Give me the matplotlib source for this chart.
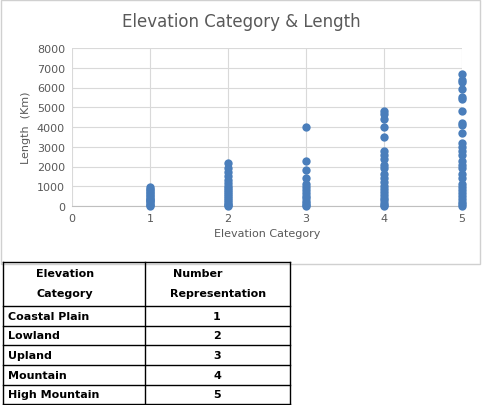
import matplotlib.pyplot as plt

# Lengths (km) by elevation category
cat1 = [950, 880, 800, 720, 650, 580, 500, 430, 360, 300, 240, 180, 120, 60, 20]
cat2 = [2200, 1900, 1700, 1500, 1300, 1150, 1000, 900, 800, 700, 600, 500, 400, 300, 200, 120, 50, 10]
cat3 = [4000, 2300, 1800, 1400, 1100, 950, 800, 650, 500, 380, 260, 150, 60, 10]
cat4 = [4800, 4650, 4400, 4000, 3500, 2800, 2600, 2400, 2100, 1900, 1600, 1400, 1200, 1000,
        850, 700, 550, 400, 280, 160, 60, 10]
cat5 = [6700, 6400, 6300, 5900, 5500, 5400, 4800, 4200, 4100, 3700, 3200, 3000, 2800, 2600,
        2300, 2100, 1900, 1600, 1400, 1100, 950, 800, 650, 500, 350, 200, 80, 10]
series = [cat1, cat2, cat3, cat4, cat5]

table_rows = [("Coastal Plain", "1"), ("Lowland", "2"), ("Upland", "3"),
              ("Mountain", "4"), ("High Mountain", "5")]

W, H = 483, 406
fig = plt.figure(figsize=(W / 100, H / 100), dpi=100)

# background axes in pixel coordinates for chart frame and table
bg = fig.add_axes([0, 0, 1, 1])
bg.set_xlim(0, W)
bg.set_ylim(H, 0)
bg.axis('off')
bg.add_patch(plt.Rectangle((1, 1), 479, 264, fill=False, edgecolor='#d0d0d0', lw=1))

# table
xs = [3, 145, 290]
ys = [263, 307, 327, 346, 366, 386, 405]
for y in ys:
    bg.plot([xs[0], xs[2]], [y, y], color='black', lw=1)
for x in xs:
    bg.plot([x, x], [ys[0], ys[-1]], color='black', lw=1)
bg.text(65, 274, "Elevation", ha='center', va='center', fontsize=8, fontweight='bold')
bg.text(65, 294, "Category", ha='center', va='center', fontsize=8, fontweight='bold')
bg.text(198, 274, "Number", ha='center', va='center', fontsize=8, fontweight='bold')
bg.text(218, 294, "Representation", ha='center', va='center', fontsize=8, fontweight='bold')
for i, (name, num) in enumerate(table_rows):
    yc = (ys[i + 1] + ys[i + 2]) / 2
    bg.text(8, yc, name, ha='left', va='center', fontsize=8, fontweight='bold')
    bg.text(217, yc, num, ha='center', va='center', fontsize=8, fontweight='bold')

# scatter chart
ax = fig.add_axes([72 / W, 1 - 207 / H, 390 / W, 158 / H])
for i, vals in enumerate(series):
    ax.scatter([i + 1] * len(vals), vals, s=36, color='#4a7ebb', zorder=3,
               linewidths=0, clip_on=False)
ax.set_xlim(0, 5)
ax.set_ylim(0, 8000)
ax.set_xticks(range(6))
ax.set_yticks(range(0, 8001, 1000))
ax.grid(color='#d9d9d9', lw=0.8)
for s in ax.spines.values():
    s.set_visible(False)
ax.spines['bottom'].set_visible(True)
ax.spines['bottom'].set_color('#bfbfbf')
ax.tick_params(length=0, labelsize=8, colors='#595959', pad=5)
ax.set_xlabel("Elevation Category", fontsize=8, color='#595959')
ax.set_ylabel("Length  (Km)", fontsize=8, color='#595959')
fig.text(0.5, 1 - 22 / H, "Elevation Category & Length", ha='center', va='center',
         fontsize=12, color='#595959')

fig.savefig('out.png', dpi=100)
